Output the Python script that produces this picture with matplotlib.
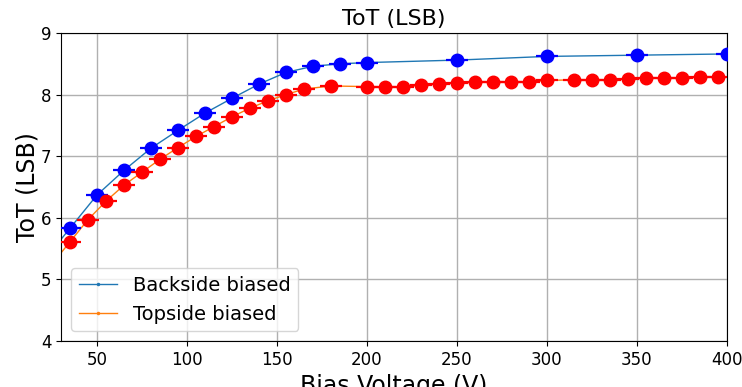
import matplotlib
matplotlib.use("Agg")
import matplotlib.pyplot as plt
import numpy as np

# Backside biased data
back_v = [25, 35, 50, 65, 80, 95, 110, 125, 140, 155, 170, 185, 200, 250, 300, 350, 400]
back_tot = [5.47, 5.83, 6.37, 6.77, 7.13, 7.42, 7.70, 7.94, 8.17, 8.36, 8.46, 8.50, 8.52, 8.56, 8.62, 8.64, 8.66]

# Topside biased data
top_v = [25, 35, 45, 55, 65, 75, 85, 95, 105, 115, 125, 135, 145, 155, 165, 180,
         200, 210, 220, 230, 240, 250, 260, 270, 280, 290, 300, 315, 325, 335,
         345, 355, 365, 375, 385, 395]
top_tot = [5.25, 5.61, 5.97, 6.27, 6.53, 6.74, 6.95, 7.14, 7.32, 7.48, 7.64, 7.78, 7.90, 8.00, 8.09, 8.14,
           8.13, 8.12, 8.13, 8.15, 8.18, 8.19, 8.20, 8.20, 8.21, 8.21, 8.23, 8.24, 8.24, 8.24,
           8.26, 8.27, 8.27, 8.27, 8.29, 8.28]

v_err = 6.0

fig = plt.figure(figsize=(7.42, 3.87), dpi=100)
ax = fig.add_axes([61/742, 1-341/387, (727-61)/742, (341-33)/387])

ax.plot(back_v, back_tot, color="tab:blue", marker=".", markersize=3, lw=1, label="Backside biased")
ax.plot(top_v, top_tot, color="tab:orange", marker=".", markersize=3, lw=1, label="Topside biased")

ax.errorbar(back_v[1:], back_tot[1:], xerr=v_err, fmt="o", color="blue", markersize=9, elinewidth=1.6, zorder=3)
ax.errorbar(top_v[1:], top_tot[1:], xerr=v_err, fmt="o", color="red", markersize=9, elinewidth=1.6, zorder=3)

ax.set_xlim(30, 400)
ax.set_ylim(4, 9)
ax.set_xticks([50, 100, 150, 200, 250, 300, 350, 400])
ax.set_yticks([4, 5, 6, 7, 8, 9])
ax.tick_params(labelsize=12)
ax.grid(True, color="#b0b0b0", lw=1)
ax.set_axisbelow(True)
ax.set_title("ToT (LSB)", fontsize=16)
ax.set_xlabel("Bias Voltage (V)", fontsize=17)
ax.set_ylabel("ToT (LSB)", fontsize=17, labelpad=1)
ax.legend(loc="lower left", fontsize=14)

fig.savefig("out.png", dpi=100)
